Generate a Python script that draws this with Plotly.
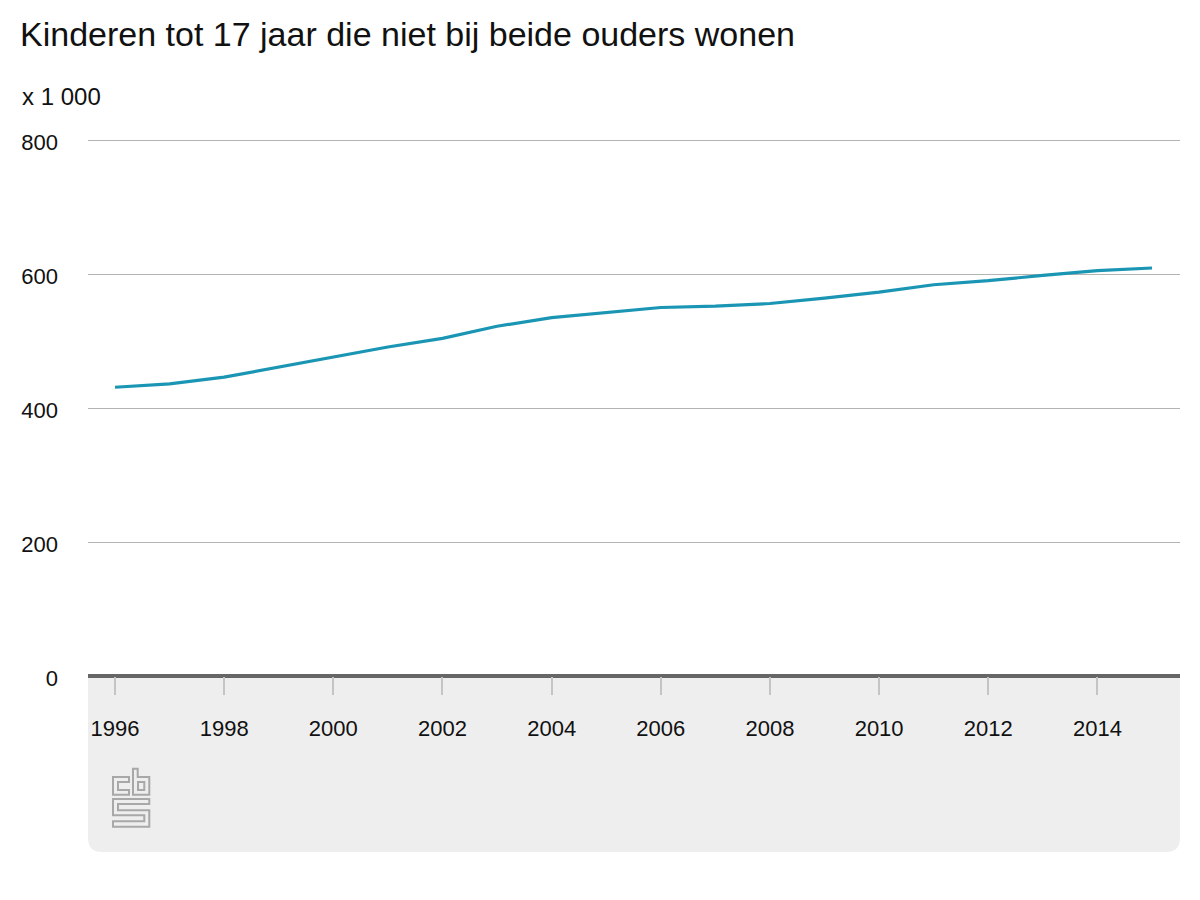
import plotly.graph_objects as go

years = list(range(1996, 2016))
kinderen = [431, 436, 446, 461, 476, 491, 504, 522, 535, 543,
            550, 552, 556, 564, 573, 584, 590, 598, 605, 609]
y_ticks = [0, 200, 400, 600, 800]

FONT = "Liberation Sans"
# the page body has an 8px margin, so page pixels are shifted by that much
OFFSET = 8
LEFT, RIGHT, TOP, BOTTOM = 88, 1180, 138, 676


def px_path(points, close=True):
    # page pixels -> path relative to the bottom left corner of the plot
    s = "M" + " L".join(f"{x - LEFT:.1f},{BOTTOM - y:.1f}" for x, y in points)
    return s + (" Z" if close else "")


def logo(points):
    # points (3x, offset 105,762)
    return px_path([(105 + x / 3, 762 + y / 3) for x, y in points])


def pixel_shape(path, **style):
    return dict(type="path", path=path, xref="paper", yref="paper",
                xsizemode="pixel", ysizemode="pixel", xanchor=0, yanchor=0,
                layer="below", **style)


# grey panel under the axis, only the bottom corners are rounded
w = RIGHT - LEFT
h = 852 - BOTTOM
r = 14
panel = (f"M0,0 L{w},0 L{w},{-h + r} Q{w},{-h} {w - r},{-h} "
         f"L{r},{-h} Q0,{-h} 0,{-h + r} Z")

logo_parts = [
    [(72, 45), (24, 45), (24, 98), (72, 98), (72, 84), (39, 84), (39, 60), (72, 60)],
    [(84, 20), (98, 20), (98, 45), (133, 45), (133, 98), (84, 98)],
    [(99, 60), (118, 60), (118, 84), (99, 84)],
    [(133, 111), (24, 111), (24, 160), (118, 160), (118, 178), (24, 178), (24, 194),
     (133, 194), (133, 145), (39, 145), (39, 126), (133, 126)],
]

shapes = [pixel_shape(panel, fillcolor="#eeeeee", line=dict(width=0))]
for part in logo_parts:
    shapes.append(pixel_shape(logo(part), line=dict(color="#a8a8a8", width=2)))

fig = go.Figure()
fig.add_trace(go.Scatter(x=years, y=kinderen, mode="lines",
                         line=dict(color="#1a96b4", width=3.2), hoverinfo="x+y"))

fig.update_layout(
    width=1192,
    height=892,
    autosize=False,
    showlegend=False,
    paper_bgcolor="white",
    plot_bgcolor="rgba(0,0,0,0)",
    font=dict(family=FONT, size=22, color="#111111"),
    margin=dict(l=LEFT - OFFSET, r=1200 - RIGHT, t=TOP - OFFSET, b=900 - BOTTOM, pad=0),
    title=dict(text="Kinderen tot 17 jaar die niet bij beide ouders wonen",
               font=dict(family=FONT, size=34, color="#111111"),
               xref="container", yref="container", x=(20 - OFFSET) / 1192, xanchor="left",
               y=1 - (34 - OFFSET) / 892, yanchor="middle", pad=dict(l=0, r=0, t=0, b=0)),
    shapes=shapes,
    annotations=[dict(text="x 1 000", xref="paper", yref="paper", showarrow=False,
                      x=(20 - LEFT) / (RIGHT - LEFT), xanchor="left",
                      y=(BOTTOM - 96.5) / (BOTTOM - TOP), yanchor="middle",
                      font=dict(family=FONT, size=24, color="#111111"))],
)
fig.update_xaxes(
    range=[1995.505, 2015.513],
    tickmode="array",
    tickvals=years[::2],
    ticks="outside",
    ticklen=18,
    tickwidth=2,
    tickcolor="#c4c4c4",
    showgrid=False,
    showline=False,
    zeroline=False,
    layer="below traces",
    ticklabelstandoff=15,
)
fig.update_yaxes(
    # 3 above 800, otherwise the top gridline is clipped off at the edge
    range=[0, 803],
    tickmode="array",
    tickvals=y_ticks,
    ticks="",
    showgrid=True,
    gridcolor="#b4b4b4",
    gridwidth=1,
    showline=False,
    zeroline=True,
    zerolinecolor="#666666",
    zerolinewidth=4,
    ticklabelstandoff=29,
    ticklabelshift=2,
)

fig.write_html("out.html")
